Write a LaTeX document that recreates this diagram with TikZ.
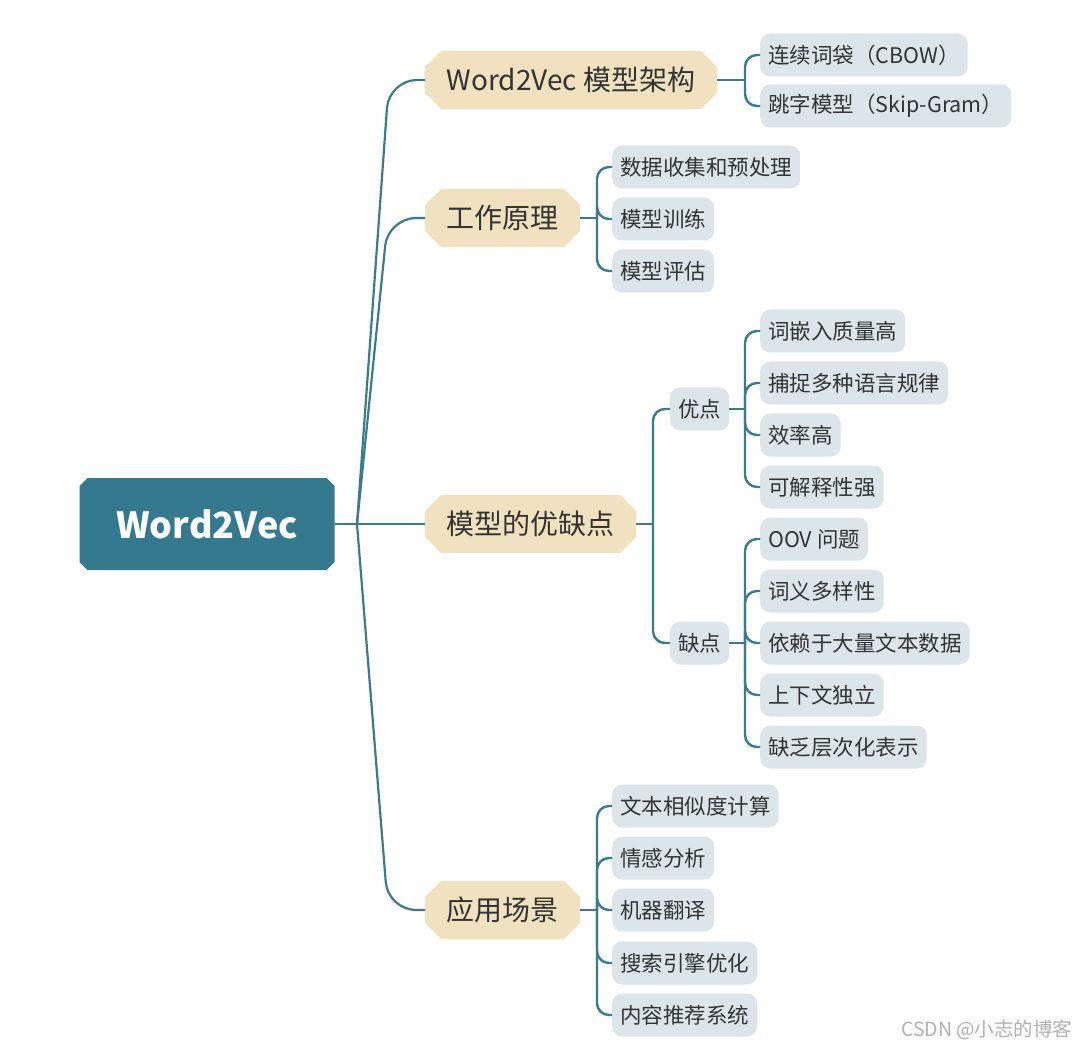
\documentclass[tikz,border=0pt]{standalone}
\usepackage{fontspec}
\setmainfont{Noto Sans CJK SC}
\usetikzlibrary{shapes.misc}
\definecolor{rootc}{HTML}{34798D}
\definecolor{linec}{HTML}{3B7B8D}
\definecolor{beige}{HTML}{F0E2BE}
\definecolor{leafc}{HTML}{DCE6EA}
\definecolor{txt}{HTML}{333333}
\begin{document}
\begin{tikzpicture}[x=1pt,y=-1pt,
  rootbox/.style={chamfered rectangle, chamfered rectangle xsep=4pt, chamfered rectangle ysep=4pt,
    fill=rootc, text=white, inner sep=0pt, minimum width=255pt, minimum height=92pt,
    font=\fontsize{36}{42}\selectfont\bfseries},
  branch/.style={chamfered rectangle, chamfered rectangle xsep=7pt, chamfered rectangle ysep=9pt,
    fill=beige, text=txt, inner xsep=14.5pt, inner ysep=0pt, minimum height=58pt, anchor=west,
    font=\fontsize{28}{32}\selectfont},
  leaf/.style={rounded corners=10pt, fill=leafc, text=txt, inner xsep=8pt, inner ysep=0pt,
    minimum height=43pt, anchor=west, font=\fontsize{21.5}{25}\selectfont},
  trunk/.style={draw=linec, line width=2.2pt, rounded corners=28pt},
  twig/.style={draw=linec, line width=2.4pt, rounded corners=12pt}
]
\useasboundingbox (0,0) rectangle (1079,1048);

% root and branches
\node[rootbox] (root) at (207,524) {Word2Vec};
\node[branch] (b1) at (425,80) {Word2Vec 模型架构};
\node[branch] (b2) at (425,218) {工作原理};
\node[branch] (b3) at (425,524) {模型的优缺点};
\node[branch] (b4) at (425,910) {应用场景};

% leaves of b1
\node[leaf] (l11) at (760,55) {连续词袋（CBOW）};
\node[leaf] (l12) at (760,106) {跳字模型（Skip-Gram）};
% leaves of b2
\node[leaf] (l21) at (612,167) {数据收集和预处理};
\node[leaf] (l22) at (612,219) {模型训练};
\node[leaf] (l23) at (612,271) {模型评估};
% b3 sub
\node[leaf] (p) at (670,409) {优点};
\node[leaf] (q) at (670,643) {缺点};
\node[leaf] (p1) at (760,331) {词嵌入质量高};
\node[leaf] (p2) at (760,383) {捕捉多种语言规律};
\node[leaf] (p3) at (760,435) {效率高};
\node[leaf] (p4) at (760,487) {可解释性强};
\node[leaf] (q1) at (760,539) {OOV 问题};
\node[leaf] (q2) at (760,591) {词义多样性};
\node[leaf] (q3) at (760,643) {依赖于大量文本数据};
\node[leaf] (q4) at (760,695) {上下文独立};
\node[leaf] (q5) at (760,747) {缺乏层次化表示};
% leaves of b4
\node[leaf] (l41) at (612,806) {文本相似度计算};
\node[leaf] (l42) at (612,858) {情感分析};
\node[leaf] (l43) at (612,910) {机器翻译};
\node[leaf] (l44) at (612,963) {搜索引擎优化};
\node[leaf] (l45) at (612,1015) {内容推荐系统};

% watermark
\node[anchor=east, text=black!30, font=\fontsize{19.5}{22}\selectfont] (wm) at (1076,1030) {CSDN @小志的博客};

% trunk connectors
\coordinate (rt) at (357,524);
\draw[trunk] (root.east) -- (b3.west);
\draw[trunk] (rt) -- ([xshift=-36pt]b1.west) -- (b1.west);
\draw[trunk] (rt) -- ([xshift=-37pt]b2.west) -- (b2.west);
\draw[trunk] (rt) -- ([xshift=-37pt]b4.west) -- (b4.west);

% b1 twigs
\coordinate (s1) at (745,80);
\draw[twig] (b1.east) -- (s1);
\foreach \n in {l11,l12} \draw[twig] (s1) -- (s1 |- \n) -- (\n.west);
% b2 twigs
\coordinate (s2) at (597,218);
\draw[twig] (b2.east) -- (s2);
\foreach \n in {l21,l22,l23} \draw[twig] (s2) -- (s2 |- \n) -- (\n.west);
% b3 twigs
\coordinate (s3) at (653,524);
\draw[twig] (b3.east) -- (s3);
\foreach \n in {p,q} \draw[twig] (s3) -- (s3 |- \n) -- (\n.west);
\coordinate (sp) at (745,409);
\draw[twig] (p.east) -- (sp);
\foreach \n in {p1,p2,p3,p4} \draw[twig] (sp) -- (sp |- \n) -- (\n.west);
\coordinate (sq) at (745,643);
\draw[twig] (q.east) -- (sq);
\foreach \n in {q1,q2,q3,q4,q5} \draw[twig] (sq) -- (sq |- \n) -- (\n.west);
% b4 twigs
\coordinate (s4) at (597,910);
\draw[twig] (b4.east) -- (s4);
\foreach \n in {l41,l42,l43,l44,l45} \draw[twig] (s4) -- (s4 |- \n) -- (\n.west);
\end{tikzpicture}
\end{document}
